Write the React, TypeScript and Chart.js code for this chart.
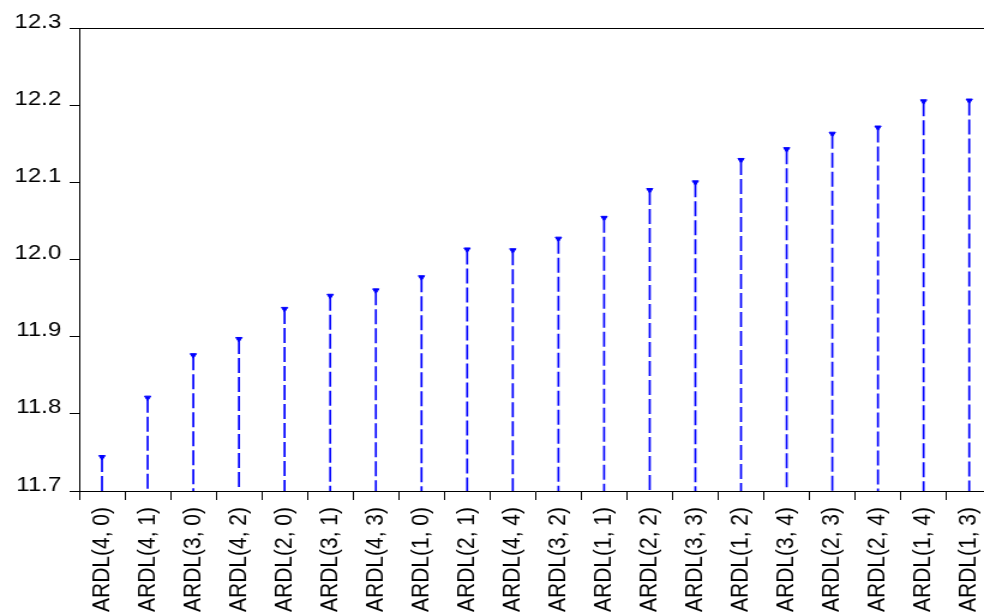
import React, { useEffect, useRef } from "react";
import { Chart, registerables } from "chart.js";

Chart.register(...registerables);

const categories = [
  "ARDL(4, 0)", "ARDL(4, 1)", "ARDL(3, 0)", "ARDL(4, 2)", "ARDL(2, 0)",
  "ARDL(3, 1)", "ARDL(4, 3)", "ARDL(1, 0)", "ARDL(2, 1)", "ARDL(4, 4)",
  "ARDL(3, 2)", "ARDL(1, 1)", "ARDL(2, 2)", "ARDL(3, 3)", "ARDL(1, 2)",
  "ARDL(3, 4)", "ARDL(2, 3)", "ARDL(2, 4)", "ARDL(1, 4)", "ARDL(1, 3)",
];

const criterionValues = [
  11.744, 11.821, 11.876, 11.897, 11.936,
  11.953, 11.960, 11.977, 12.013, 12.012,
  12.027, 12.054, 12.090, 12.100, 12.129,
  12.143, 12.163, 12.171, 12.205, 12.206,
];

const yTickValues = [11.7, 11.8, 11.9, 12.0, 12.1, 12.2, 12.3];
const yTickLabels = ["11.7", "11.8", "11.9", "12.0", "12.1", "12.2", "12.3"];

const STRETCH = 1.2;
const CANVAS_W = 840;
const CANVAS_H = 613;

const stemsPlugin = {
  id: "stems",
  beforeDatasetsDraw(chart: any) {
    const ctx = chart.ctx;
    const yScale = chart.scales.y;
    const base = yScale.getPixelForValue(yTickValues[0]);
    const meta = chart.getDatasetMeta(0);
    ctx.save();
    ctx.strokeStyle = "#0000ff";
    ctx.lineWidth = 1.7;
    ctx.setLineDash([15, 4]);
    meta.data.forEach((pt: any) => {
      ctx.beginPath();
      ctx.moveTo(pt.x, pt.y);
      ctx.lineTo(pt.x, base);
      ctx.stroke();
    });
    ctx.restore();
  },
  afterDraw(chart: any) {
    const ctx = chart.ctx;
    const area = chart.chartArea;
    ctx.save();
    ctx.strokeStyle = "#000";
    ctx.lineWidth = 1;
    ctx.beginPath();
    ctx.moveTo(area.left, Math.round(area.top) + 0.5);
    ctx.lineTo(chart.width, Math.round(area.top) + 0.5);
    ctx.stroke();
    ctx.restore();
  },
};

export default function App() {
  const ref = useRef<HTMLCanvasElement | null>(null);

  useEffect(() => {
    if (!ref.current) return;
    const yFont = { family: "'Liberation Sans', Arial, sans-serif", size: 20 };
    const xFont = { family: "'Liberation Sans', Arial, sans-serif", size: 21 };
    const chart = new Chart(ref.current, {
      type: "line",
      data: {
        labels: categories,
        datasets: [
          {
            data: criterionValues,
            showLine: false,
            pointStyle: "triangle",
            rotation: 180,
            pointRadius: 3,
            pointHoverRadius: 3,
            pointBackgroundColor: "#0000ff",
            pointBorderColor: "#0000ff",
            pointBorderWidth: 1,
          } as any,
        ],
      },
      options: {
        responsive: false,
        animation: false,
        devicePixelRatio: 1,
        events: [],
        layout: { padding: { top: 28, right: 0, left: 0, bottom: 0 } },
        plugins: { legend: { display: false }, tooltip: { enabled: false } },
        scales: {
          x: {
            type: "category",
            offset: true,
            grid: {
              offset: true,
              drawOnChartArea: false,
              tickLength: 9,
              color: "#000",
              lineWidth: 1,
            },
            border: { display: true, color: "#000", width: 1 },
            ticks: {
              autoSkip: false,
              maxRotation: 90,
              minRotation: 90,
              padding: 7,
              color: "#000",
              font: xFont,
            },
            afterFit: (s: any) => {
              s.height = 122;
            },
          },
          y: {
            min: 11.7,
            max: 12.3,
            afterBuildTicks: (s: any) => {
              s.ticks = yTickValues.map((v) => ({ value: v }));
            },
            ticks: {
              callback: (_v: any, i: number) => yTickLabels[i],
              padding: 7,
              labelOffset: -6,
              color: "#000",
              font: yFont,
            },
            grid: {
              drawOnChartArea: false,
              tickLength: 8,
              color: "#000",
              lineWidth: 1,
            },
            border: { display: true, color: "#000", width: 1 },
            afterFit: (s: any) => {
              s.width = 66;
            },
          },
        },
      } as any,
      plugins: [stemsPlugin],
    });
    return () => chart.destroy();
  }, []);

  return (
    <div
      style={{
        position: "absolute",
        left: 0,
        top: 0,
        width: 984,
        height: 613,
        overflow: "hidden",
        background: "#fff",
      }}
    >
      <div
        style={{
          width: CANVAS_W,
          height: CANVAS_H,
          transform: `scaleX(${STRETCH})`,
          transformOrigin: "0 0",
        }}
      >
        <canvas ref={ref} width={CANVAS_W} height={CANVAS_H} style={{ display: "block" }} />
      </div>
    </div>
  );
}
